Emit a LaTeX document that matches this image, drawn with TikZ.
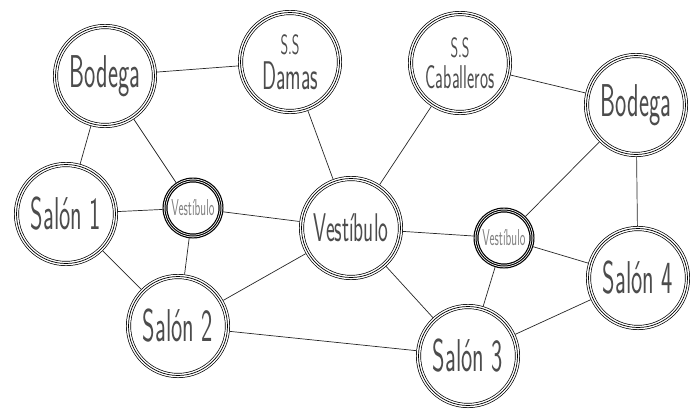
\documentclass[tikz,border=0pt]{standalone}
\usepackage{graphicx}
\usepackage{xcolor}
\definecolor{inkgray}{gray}{0.3}
\definecolor{softgray}{gray}{0.5}
\newcommand{\hand}[2]{\scalebox{0.52}[1]{\fontsize{#1}{#1}\selectfont\sffamily #2}}

\begin{document}
\begin{tikzpicture}[x=1pt, y=-1pt,
    room/.style={circle, draw=black, line width=5pt, minimum size=99pt, inner sep=0pt,
      outer sep=2.5pt, text=inkgray,
      postaction={draw=white, line width=3.6pt},
      postaction={draw=black, line width=0.7pt}},
    hall/.style={circle, draw=black, line width=5pt, minimum size=56pt, inner sep=0pt,
      outer sep=2.5pt, text=softgray,
      postaction={draw=white, line width=2.6pt},
      postaction={draw=black, line width=1pt}},
    link/.style={black!85, line width=0.7pt}]
			\useasboundingbox (0,0) rectangle (690,408);

			% --- Rooms ---
			\node[room] (bodL)  at (105, 76)  {\hand{46}{Bodega}};
			\node[room, align=center] (damas) at (290, 62)
				{\hand{28}{S.S}\\[6pt]\hand{40}{Damas}};
			\node[room, align=center] (cab)   at (460, 63)
				{\hand{28}{S.S}\\[6pt]\hand{33}{Caballeros}};
			\node[room] (bodR)  at (636, 105) {\hand{46}{Bodega}};
			\node[room] (sal1)  at (66, 214)  {\hand{46}{Salón 1}};
			\node[room] (sal2)  at (178, 326) {\hand{46}{Salón 2}};
			\node[room] (sal3)  at (468, 356) {\hand{46}{Salón 3}};
			\node[room] (sal4)  at (638, 278) {\hand{46}{Salón 4}};
			\node[room] (vesC)  at (351, 228) {\hand{40}{Vestíbulo}};

			% --- Small halls ---
			\node[hall] (vesL) at (193, 208) {\hand{23}{Vestíbulo}};
			\node[hall] (vesR) at (504, 238) {\hand{23}{Vestíbulo}};

			% --- Connections ---
			\draw[link] (bodL) -- (damas);
			\draw[link] (bodL) -- (sal1);
			\draw[link] (bodL) -- (vesL);
			\draw[link] (damas) -- (vesC);
			\draw[link] (cab) -- (vesC);
			\draw[link] (cab) -- (bodR);
			\draw[link] (bodR) -- (vesR);
			\draw[link] (bodR) -- (sal4);
			\draw[link] (sal1) -- (vesL);
			\draw[link] (sal1) -- (sal2);
			\draw[link] (vesL) -- (sal2);
			\draw[link] (vesL) -- (vesC);
			\draw[link] (vesC) -- (sal2);
			\draw[link] (vesC) -- (vesR);
			\draw[link] (vesC) -- (sal3);
			\draw[link] (sal2) -- (sal3);
			\draw[link] (vesR) -- (sal3);
			\draw[link] (vesR) -- (sal4);
			\draw[link] (sal3) -- (sal4);
		\end{tikzpicture}
\end{document}
